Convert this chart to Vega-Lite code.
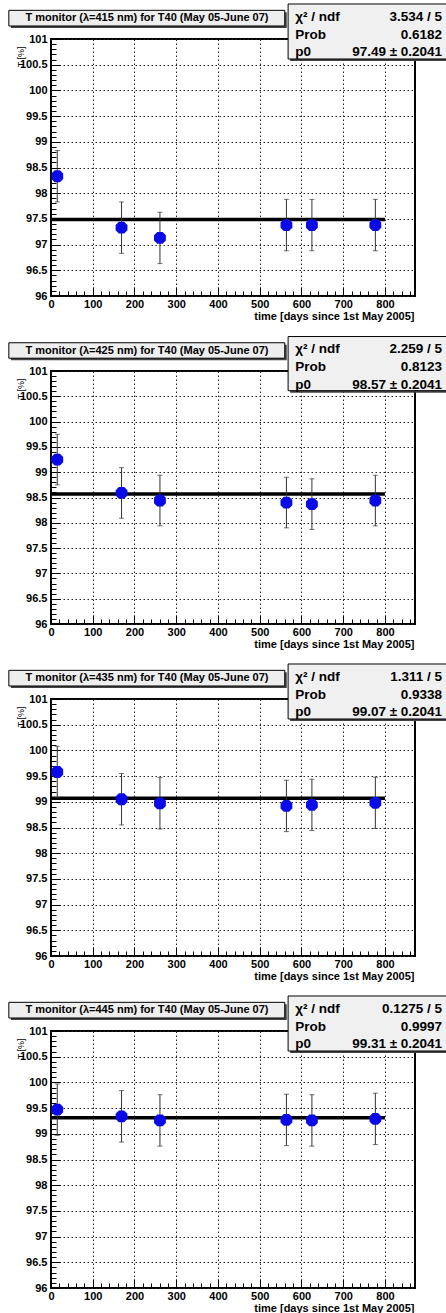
{
  "$schema": "https://vega.github.io/schema/vega-lite/v6.json",
  "background": "white",
  "padding": {"top": 2, "left": 7, "right": 0, "bottom": 0},
  "spacing": 75,
  "bounds": "flush",
  "datasets": {
    "pts": [
      {"panel": 1, "t": 15, "T": 98.33, "err": 0.5},
      {"panel": 1, "t": 169, "T": 97.33, "err": 0.5},
      {"panel": 1, "t": 261, "T": 97.13, "err": 0.5},
      {"panel": 1, "t": 564, "T": 97.38, "err": 0.5},
      {"panel": 1, "t": 625, "T": 97.38, "err": 0.5},
      {"panel": 1, "t": 777, "T": 97.38, "err": 0.5},
      {"panel": 2, "t": 15, "T": 99.25, "err": 0.5},
      {"panel": 2, "t": 169, "T": 98.59, "err": 0.5},
      {"panel": 2, "t": 261, "T": 98.44, "err": 0.5},
      {"panel": 2, "t": 564, "T": 98.4, "err": 0.5},
      {"panel": 2, "t": 625, "T": 98.37, "err": 0.5},
      {"panel": 2, "t": 777, "T": 98.44, "err": 0.5},
      {"panel": 3, "t": 15, "T": 99.58, "err": 0.5},
      {"panel": 3, "t": 169, "T": 99.05, "err": 0.5},
      {"panel": 3, "t": 261, "T": 98.97, "err": 0.5},
      {"panel": 3, "t": 564, "T": 98.92, "err": 0.5},
      {"panel": 3, "t": 625, "T": 98.94, "err": 0.5},
      {"panel": 3, "t": 777, "T": 98.98, "err": 0.5},
      {"panel": 4, "t": 15, "T": 99.47, "err": 0.5},
      {"panel": 4, "t": 169, "T": 99.34, "err": 0.5},
      {"panel": 4, "t": 261, "T": 99.26, "err": 0.5},
      {"panel": 4, "t": 564, "T": 99.27, "err": 0.5},
      {"panel": 4, "t": 625, "T": 99.26, "err": 0.5},
      {"panel": 4, "t": 777, "T": 99.29, "err": 0.5}
    ],
    "info": [
      {"panel": 1, "title": "T monitor (λ=415 nm) for T40 (May 05-June 07)", "labels": ["χ² / ndf", "Prob", "p0"], "vals": ["3.534 / 5", "0.6182", "97.49 ± 0.2041"], "p0": 97.49},
      {"panel": 2, "title": "T monitor (λ=425 nm) for T40 (May 05-June 07)", "labels": ["χ² / ndf", "Prob", "p0"], "vals": ["2.259 / 5", "0.8123", "98.57 ± 0.2041"], "p0": 98.57},
      {"panel": 3, "title": "T monitor (λ=435 nm) for T40 (May 05-June 07)", "labels": ["χ² / ndf", "Prob", "p0"], "vals": ["1.311 / 5", "0.9338", "99.07 ± 0.2041"], "p0": 99.07},
      {"panel": 4, "title": "T monitor (λ=445 nm) for T40 (May 05-June 07)", "labels": ["χ² / ndf", "Prob", "p0"], "vals": ["0.1275 / 5", "0.9997", "99.31 ± 0.2041"], "p0": 99.31}
    ]
  },
  "vconcat": [
    {
      "width": 364, "height": 257,
      "resolve": {"axis": {"x": "independent", "y": "independent"}},
      "layer": [
        {"data": {"name": "info"}, "transform": [{"filter": "datum.panel == 1"}],
         "mark": {"type": "rule", "strokeWidth": 3.5, "color": "black"},
         "encoding": {
           "x": {"datum": 0, "type": "quantitative", "scale": {"domain": [0, 872], "nice": false},
                 "axis": {"orient": "bottom", "title": "time [days since 1st May 2005]", "values": [0,100,200,300,400,500,600,700,800],
                          "format": "d", "grid": true, "tickSize": -9, "labelOverlap": false, "labelFlush": false, "labelPadding": 11, "labelBaseline": "top",
                          "titleAnchor": "end", "titleAlign": "right", "titleX": 363, "titleY": 23, "titleBaseline": "alphabetic"}},
           "x2": {"datum": 800},
           "y": {"field": "p0", "type": "quantitative", "scale": {"domain": [96, 101], "nice": false},
                 "axis": {"orient": "left", "title": "T [%]", "values": [96,96.5,97,97.5,98,98.5,99,99.5,100,100.5,101],
                          "format": "~g", "grid": true, "tickSize": -9, "labelOverlap": false, "labelFlush": false, "labelPadding": 13,
                          "titleAnchor": "end", "titleAngle": -90, "titleAlign": "right", "titleBaseline": "alphabetic", "titleX": -28, "titleY": 7, "titleFontSize": 9, "titleFontWeight": "normal"}}
         }},
        {"data": {"name": "pts"}, "transform": [{"filter": "datum.panel == 1"}],
         "mark": {"type": "errorbar", "ticks": {"size": 5, "color": "#333"}, "rule": {"color": "#333", "strokeWidth": 1}},
         "encoding": {"x": {"field": "t", "type": "quantitative", "axis": null}, "y": {"field": "T", "type": "quantitative", "axis": null}, "yError": {"field": "err"}}},
        {"data": {"name": "pts"}, "transform": [{"filter": "datum.panel == 1"}],
         "mark": {"type": "point", "filled": true, "opacity": 1, "color": "#0a0ae6", "size": 140, "shape": "M-0.45,-1L0.45,-1L1,-0.45L1,0.45L0.45,1L-0.45,1L-1,0.45L-1,-0.45Z"},
         "encoding": {
           "x": {"field": "t", "type": "quantitative", "axis": {"orient": "bottom", "title": null, "labels": false, "grid": false, "tickSize": -5, "values": [0,20,40,60,80,100,120,140,160,180,200,220,240,260,280,300,320,340,360,380,400,420,440,460,480,500,520,540,560,580,600,620,640,660,680,700,720,740,760,780,800,820,840,860]}},
           "y": {"field": "T", "type": "quantitative", "axis": {"orient": "left", "title": null, "labels": false, "grid": false, "tickSize": -5, "values": [96,96.1,96.2,96.3,96.4,96.5,96.6,96.7,96.8,96.9,97,97.1,97.2,97.3,97.4,97.5,97.6,97.7,97.8,97.9,98,98.1,98.2,98.3,98.4,98.5,98.6,98.7,98.8,98.9,99,99.1,99.2,99.3,99.4,99.5,99.6,99.7,99.8,99.9,100,100.1,100.2,100.3,100.4,100.5,100.6,100.7,100.8,100.9,101]}}}},
        {"data": {"name": "info"}, "transform": [{"filter": "datum.panel == 1"}],
         "mark": {"type": "rect", "fill": "#444", "xOffset": 2, "yOffset": 2, "x2Offset": 2, "y2Offset": 2},
         "encoding": {"x": {"datum": -101, "type": "quantitative", "axis": null}, "x2": {"datum": 560}, "y": {"datum": 101.558, "type": "quantitative", "axis": null}, "y2": {"datum": 101.253}}},
        {"data": {"name": "info"}, "transform": [{"filter": "datum.panel == 1"}],
         "mark": {"type": "rect", "fill": "#eeeeee", "stroke": "black", "strokeWidth": 1},
         "encoding": {"x": {"datum": -101, "type": "quantitative", "axis": null}, "x2": {"datum": 560}, "y": {"datum": 101.558, "type": "quantitative", "axis": null}, "y2": {"datum": 101.253}}},
        {"data": {"name": "info"}, "transform": [{"filter": "datum.panel == 1"}],
         "mark": {"type": "text", "font": "Liberation Sans", "fontWeight": "bold", "fontSize": 11, "align": "center", "baseline": "middle", "color": "black"},
         "encoding": {"x": {"datum": 230, "type": "quantitative", "axis": null}, "y": {"datum": 101.405, "type": "quantitative", "axis": null}, "text": {"field": "title"}}},
        {"data": {"name": "info"}, "transform": [{"filter": "datum.panel == 1"}],
         "mark": {"type": "rect", "fill": "#444", "xOffset": 2, "yOffset": 2, "x2Offset": 2, "y2Offset": 2},
         "encoding": {"x": {"datum": 568, "type": "quantitative", "axis": null}, "x2": {"datum": 1000}, "y": {"datum": 101.681, "type": "quantitative", "axis": null}, "y2": {"datum": 100.611}}},
        {"data": {"name": "info"}, "transform": [{"filter": "datum.panel == 1"}],
         "mark": {"type": "rect", "fill": "#f0f0f0", "stroke": "black", "strokeWidth": 1},
         "encoding": {"x": {"datum": 568, "type": "quantitative", "axis": null}, "x2": {"datum": 1000}, "y": {"datum": 101.681, "type": "quantitative", "axis": null}, "y2": {"datum": 100.611}}},
        {"data": {"name": "info"}, "transform": [{"filter": "datum.panel == 1"}],
         "mark": {"type": "text", "font": "Liberation Sans", "fontWeight": "bold", "fontSize": 13.5, "align": "left", "baseline": "middle", "lineHeight": 17.7, "color": "black"},
         "encoding": {"x": {"datum": 585, "type": "quantitative", "axis": null}, "y": {"datum": 101.428, "type": "quantitative", "axis": null}, "text": {"field": "labels"}}},
        {"data": {"name": "info"}, "transform": [{"filter": "datum.panel == 1"}],
         "mark": {"type": "text", "font": "Liberation Sans", "fontWeight": "bold", "fontSize": 13.5, "align": "right", "baseline": "middle", "lineHeight": 17.7, "color": "black"},
         "encoding": {"x": {"datum": 937, "type": "quantitative", "axis": null}, "y": {"datum": 101.428, "type": "quantitative", "axis": null}, "text": {"field": "vals"}}}
      ]
    },
    {
      "width": 364, "height": 253,
      "resolve": {"axis": {"x": "independent", "y": "independent"}},
      "layer": [
        {"data": {"name": "info"}, "transform": [{"filter": "datum.panel == 2"}],
         "mark": {"type": "rule", "strokeWidth": 3.5, "color": "black"},
         "encoding": {
           "x": {"datum": 0, "type": "quantitative", "scale": {"domain": [0, 872], "nice": false},
                 "axis": {"orient": "bottom", "title": "time [days since 1st May 2005]", "values": [0,100,200,300,400,500,600,700,800],
                          "format": "d", "grid": true, "tickSize": -9, "labelOverlap": false, "labelFlush": false, "labelPadding": 11, "labelBaseline": "top",
                          "titleAnchor": "end", "titleAlign": "right", "titleX": 363, "titleY": 23, "titleBaseline": "alphabetic"}},
           "x2": {"datum": 800},
           "y": {"field": "p0", "type": "quantitative", "scale": {"domain": [96, 101], "nice": false},
                 "axis": {"orient": "left", "title": "T [%]", "values": [96,96.5,97,97.5,98,98.5,99,99.5,100,100.5,101],
                          "format": "~g", "grid": true, "tickSize": -9, "labelOverlap": false, "labelFlush": false, "labelPadding": 13,
                          "titleAnchor": "end", "titleAngle": -90, "titleAlign": "right", "titleBaseline": "alphabetic", "titleX": -28, "titleY": 7, "titleFontSize": 9, "titleFontWeight": "normal"}}
         }},
        {"data": {"name": "pts"}, "transform": [{"filter": "datum.panel == 2"}],
         "mark": {"type": "errorbar", "ticks": {"size": 5, "color": "#333"}, "rule": {"color": "#333", "strokeWidth": 1}},
         "encoding": {"x": {"field": "t", "type": "quantitative", "axis": null}, "y": {"field": "T", "type": "quantitative", "axis": null}, "yError": {"field": "err"}}},
        {"data": {"name": "pts"}, "transform": [{"filter": "datum.panel == 2"}],
         "mark": {"type": "point", "filled": true, "opacity": 1, "color": "#0a0ae6", "size": 140, "shape": "M-0.45,-1L0.45,-1L1,-0.45L1,0.45L0.45,1L-0.45,1L-1,0.45L-1,-0.45Z"},
         "encoding": {
           "x": {"field": "t", "type": "quantitative", "axis": {"orient": "bottom", "title": null, "labels": false, "grid": false, "tickSize": -5, "values": [0,20,40,60,80,100,120,140,160,180,200,220,240,260,280,300,320,340,360,380,400,420,440,460,480,500,520,540,560,580,600,620,640,660,680,700,720,740,760,780,800,820,840,860]}},
           "y": {"field": "T", "type": "quantitative", "axis": {"orient": "left", "title": null, "labels": false, "grid": false, "tickSize": -5, "values": [96,96.1,96.2,96.3,96.4,96.5,96.6,96.7,96.8,96.9,97,97.1,97.2,97.3,97.4,97.5,97.6,97.7,97.8,97.9,98,98.1,98.2,98.3,98.4,98.5,98.6,98.7,98.8,98.9,99,99.1,99.2,99.3,99.4,99.5,99.6,99.7,99.8,99.9,100,100.1,100.2,100.3,100.4,100.5,100.6,100.7,100.8,100.9,101]}}}},
        {"data": {"name": "info"}, "transform": [{"filter": "datum.panel == 2"}],
         "mark": {"type": "rect", "fill": "#444", "xOffset": 2, "yOffset": 2, "x2Offset": 2, "y2Offset": 2},
         "encoding": {"x": {"datum": -101, "type": "quantitative", "axis": null}, "x2": {"datum": 560}, "y": {"datum": 101.558, "type": "quantitative", "axis": null}, "y2": {"datum": 101.253}}},
        {"data": {"name": "info"}, "transform": [{"filter": "datum.panel == 2"}],
         "mark": {"type": "rect", "fill": "#eeeeee", "stroke": "black", "strokeWidth": 1},
         "encoding": {"x": {"datum": -101, "type": "quantitative", "axis": null}, "x2": {"datum": 560}, "y": {"datum": 101.558, "type": "quantitative", "axis": null}, "y2": {"datum": 101.253}}},
        {"data": {"name": "info"}, "transform": [{"filter": "datum.panel == 2"}],
         "mark": {"type": "text", "font": "Liberation Sans", "fontWeight": "bold", "fontSize": 11, "align": "center", "baseline": "middle", "color": "black"},
         "encoding": {"x": {"datum": 230, "type": "quantitative", "axis": null}, "y": {"datum": 101.405, "type": "quantitative", "axis": null}, "text": {"field": "title"}}},
        {"data": {"name": "info"}, "transform": [{"filter": "datum.panel == 2"}],
         "mark": {"type": "rect", "fill": "#444", "xOffset": 2, "yOffset": 2, "x2Offset": 2, "y2Offset": 2},
         "encoding": {"x": {"datum": 568, "type": "quantitative", "axis": null}, "x2": {"datum": 1000}, "y": {"datum": 101.681, "type": "quantitative", "axis": null}, "y2": {"datum": 100.611}}},
        {"data": {"name": "info"}, "transform": [{"filter": "datum.panel == 2"}],
         "mark": {"type": "rect", "fill": "#f0f0f0", "stroke": "black", "strokeWidth": 1},
         "encoding": {"x": {"datum": 568, "type": "quantitative", "axis": null}, "x2": {"datum": 1000}, "y": {"datum": 101.681, "type": "quantitative", "axis": null}, "y2": {"datum": 100.611}}},
        {"data": {"name": "info"}, "transform": [{"filter": "datum.panel == 2"}],
         "mark": {"type": "text", "font": "Liberation Sans", "fontWeight": "bold", "fontSize": 13.5, "align": "left", "baseline": "middle", "lineHeight": 17.7, "color": "black"},
         "encoding": {"x": {"datum": 585, "type": "quantitative", "axis": null}, "y": {"datum": 101.428, "type": "quantitative", "axis": null}, "text": {"field": "labels"}}},
        {"data": {"name": "info"}, "transform": [{"filter": "datum.panel == 2"}],
         "mark": {"type": "text", "font": "Liberation Sans", "fontWeight": "bold", "fontSize": 13.5, "align": "right", "baseline": "middle", "lineHeight": 17.7, "color": "black"},
         "encoding": {"x": {"datum": 937, "type": "quantitative", "axis": null}, "y": {"datum": 101.428, "type": "quantitative", "axis": null}, "text": {"field": "vals"}}}
      ]
    },
    {
      "width": 364, "height": 257,
      "resolve": {"axis": {"x": "independent", "y": "independent"}},
      "layer": [
        {"data": {"name": "info"}, "transform": [{"filter": "datum.panel == 3"}],
         "mark": {"type": "rule", "strokeWidth": 3.5, "color": "black"},
         "encoding": {
           "x": {"datum": 0, "type": "quantitative", "scale": {"domain": [0, 872], "nice": false},
                 "axis": {"orient": "bottom", "title": "time [days since 1st May 2005]", "values": [0,100,200,300,400,500,600,700,800],
                          "format": "d", "grid": true, "tickSize": -9, "labelOverlap": false, "labelFlush": false, "labelPadding": 11, "labelBaseline": "top",
                          "titleAnchor": "end", "titleAlign": "right", "titleX": 363, "titleY": 23, "titleBaseline": "alphabetic"}},
           "x2": {"datum": 800},
           "y": {"field": "p0", "type": "quantitative", "scale": {"domain": [96, 101], "nice": false},
                 "axis": {"orient": "left", "title": "T [%]", "values": [96,96.5,97,97.5,98,98.5,99,99.5,100,100.5,101],
                          "format": "~g", "grid": true, "tickSize": -9, "labelOverlap": false, "labelFlush": false, "labelPadding": 13,
                          "titleAnchor": "end", "titleAngle": -90, "titleAlign": "right", "titleBaseline": "alphabetic", "titleX": -28, "titleY": 7, "titleFontSize": 9, "titleFontWeight": "normal"}}
         }},
        {"data": {"name": "pts"}, "transform": [{"filter": "datum.panel == 3"}],
         "mark": {"type": "errorbar", "ticks": {"size": 5, "color": "#333"}, "rule": {"color": "#333", "strokeWidth": 1}},
         "encoding": {"x": {"field": "t", "type": "quantitative", "axis": null}, "y": {"field": "T", "type": "quantitative", "axis": null}, "yError": {"field": "err"}}},
        {"data": {"name": "pts"}, "transform": [{"filter": "datum.panel == 3"}],
         "mark": {"type": "point", "filled": true, "opacity": 1, "color": "#0a0ae6", "size": 140, "shape": "M-0.45,-1L0.45,-1L1,-0.45L1,0.45L0.45,1L-0.45,1L-1,0.45L-1,-0.45Z"},
         "encoding": {
           "x": {"field": "t", "type": "quantitative", "axis": {"orient": "bottom", "title": null, "labels": false, "grid": false, "tickSize": -5, "values": [0,20,40,60,80,100,120,140,160,180,200,220,240,260,280,300,320,340,360,380,400,420,440,460,480,500,520,540,560,580,600,620,640,660,680,700,720,740,760,780,800,820,840,860]}},
           "y": {"field": "T", "type": "quantitative", "axis": {"orient": "left", "title": null, "labels": false, "grid": false, "tickSize": -5, "values": [96,96.1,96.2,96.3,96.4,96.5,96.6,96.7,96.8,96.9,97,97.1,97.2,97.3,97.4,97.5,97.6,97.7,97.8,97.9,98,98.1,98.2,98.3,98.4,98.5,98.6,98.7,98.8,98.9,99,99.1,99.2,99.3,99.4,99.5,99.6,99.7,99.8,99.9,100,100.1,100.2,100.3,100.4,100.5,100.6,100.7,100.8,100.9,101]}}}},
        {"data": {"name": "info"}, "transform": [{"filter": "datum.panel == 3"}],
         "mark": {"type": "rect", "fill": "#444", "xOffset": 2, "yOffset": 2, "x2Offset": 2, "y2Offset": 2},
         "encoding": {"x": {"datum": -101, "type": "quantitative", "axis": null}, "x2": {"datum": 560}, "y": {"datum": 101.558, "type": "quantitative", "axis": null}, "y2": {"datum": 101.253}}},
        {"data": {"name": "info"}, "transform": [{"filter": "datum.panel == 3"}],
         "mark": {"type": "rect", "fill": "#eeeeee", "stroke": "black", "strokeWidth": 1},
         "encoding": {"x": {"datum": -101, "type": "quantitative", "axis": null}, "x2": {"datum": 560}, "y": {"datum": 101.558, "type": "quantitative", "axis": null}, "y2": {"datum": 101.253}}},
        {"data": {"name": "info"}, "transform": [{"filter": "datum.panel == 3"}],
         "mark": {"type": "text", "font": "Liberation Sans", "fontWeight": "bold", "fontSize": 11, "align": "center", "baseline": "middle", "color": "black"},
         "encoding": {"x": {"datum": 230, "type": "quantitative", "axis": null}, "y": {"datum": 101.405, "type": "quantitative", "axis": null}, "text": {"field": "title"}}},
        {"data": {"name": "info"}, "transform": [{"filter": "datum.panel == 3"}],
         "mark": {"type": "rect", "fill": "#444", "xOffset": 2, "yOffset": 2, "x2Offset": 2, "y2Offset": 2},
         "encoding": {"x": {"datum": 568, "type": "quantitative", "axis": null}, "x2": {"datum": 1000}, "y": {"datum": 101.681, "type": "quantitative", "axis": null}, "y2": {"datum": 100.611}}},
        {"data": {"name": "info"}, "transform": [{"filter": "datum.panel == 3"}],
         "mark": {"type": "rect", "fill": "#f0f0f0", "stroke": "black", "strokeWidth": 1},
         "encoding": {"x": {"datum": 568, "type": "quantitative", "axis": null}, "x2": {"datum": 1000}, "y": {"datum": 101.681, "type": "quantitative", "axis": null}, "y2": {"datum": 100.611}}},
        {"data": {"name": "info"}, "transform": [{"filter": "datum.panel == 3"}],
         "mark": {"type": "text", "font": "Liberation Sans", "fontWeight": "bold", "fontSize": 13.5, "align": "left", "baseline": "middle", "lineHeight": 17.7, "color": "black"},
         "encoding": {"x": {"datum": 585, "type": "quantitative", "axis": null}, "y": {"datum": 101.428, "type": "quantitative", "axis": null}, "text": {"field": "labels"}}},
        {"data": {"name": "info"}, "transform": [{"filter": "datum.panel == 3"}],
         "mark": {"type": "text", "font": "Liberation Sans", "fontWeight": "bold", "fontSize": 13.5, "align": "right", "baseline": "middle", "lineHeight": 17.7, "color": "black"},
         "encoding": {"x": {"datum": 937, "type": "quantitative", "axis": null}, "y": {"datum": 101.428, "type": "quantitative", "axis": null}, "text": {"field": "vals"}}}
      ]
    },
    {
      "width": 364, "height": 257,
      "resolve": {"axis": {"x": "independent", "y": "independent"}},
      "layer": [
        {"data": {"name": "info"}, "transform": [{"filter": "datum.panel == 4"}],
         "mark": {"type": "rule", "strokeWidth": 3.5, "color": "black"},
         "encoding": {
           "x": {"datum": 0, "type": "quantitative", "scale": {"domain": [0, 872], "nice": false},
                 "axis": {"orient": "bottom", "title": "time [days since 1st May 2005]", "values": [0,100,200,300,400,500,600,700,800],
                          "format": "d", "grid": true, "tickSize": -9, "labelOverlap": false, "labelFlush": false, "labelPadding": 11, "labelBaseline": "top",
                          "titleAnchor": "end", "titleAlign": "right", "titleX": 363, "titleY": 23, "titleBaseline": "alphabetic"}},
           "x2": {"datum": 800},
           "y": {"field": "p0", "type": "quantitative", "scale": {"domain": [96, 101], "nice": false},
                 "axis": {"orient": "left", "title": "T [%]", "values": [96,96.5,97,97.5,98,98.5,99,99.5,100,100.5,101],
                          "format": "~g", "grid": true, "tickSize": -9, "labelOverlap": false, "labelFlush": false, "labelPadding": 13,
                          "titleAnchor": "end", "titleAngle": -90, "titleAlign": "right", "titleBaseline": "alphabetic", "titleX": -28, "titleY": 7, "titleFontSize": 9, "titleFontWeight": "normal"}}
         }},
        {"data": {"name": "pts"}, "transform": [{"filter": "datum.panel == 4"}],
         "mark": {"type": "errorbar", "ticks": {"size": 5, "color": "#333"}, "rule": {"color": "#333", "strokeWidth": 1}},
         "encoding": {"x": {"field": "t", "type": "quantitative", "axis": null}, "y": {"field": "T", "type": "quantitative", "axis": null}, "yError": {"field": "err"}}},
        {"data": {"name": "pts"}, "transform": [{"filter": "datum.panel == 4"}],
         "mark": {"type": "point", "filled": true, "opacity": 1, "color": "#0a0ae6", "size": 140, "shape": "M-0.45,-1L0.45,-1L1,-0.45L1,0.45L0.45,1L-0.45,1L-1,0.45L-1,-0.45Z"},
         "encoding": {
           "x": {"field": "t", "type": "quantitative", "axis": {"orient": "bottom", "title": null, "labels": false, "grid": false, "tickSize": -5, "values": [0,20,40,60,80,100,120,140,160,180,200,220,240,260,280,300,320,340,360,380,400,420,440,460,480,500,520,540,560,580,600,620,640,660,680,700,720,740,760,780,800,820,840,860]}},
           "y": {"field": "T", "type": "quantitative", "axis": {"orient": "left", "title": null, "labels": false, "grid": false, "tickSize": -5, "values": [96,96.1,96.2,96.3,96.4,96.5,96.6,96.7,96.8,96.9,97,97.1,97.2,97.3,97.4,97.5,97.6,97.7,97.8,97.9,98,98.1,98.2,98.3,98.4,98.5,98.6,98.7,98.8,98.9,99,99.1,99.2,99.3,99.4,99.5,99.6,99.7,99.8,99.9,100,100.1,100.2,100.3,100.4,100.5,100.6,100.7,100.8,100.9,101]}}}},
        {"data": {"name": "info"}, "transform": [{"filter": "datum.panel == 4"}],
         "mark": {"type": "rect", "fill": "#444", "xOffset": 2, "yOffset": 2, "x2Offset": 2, "y2Offset": 2},
         "encoding": {"x": {"datum": -101, "type": "quantitative", "axis": null}, "x2": {"datum": 560}, "y": {"datum": 101.558, "type": "quantitative", "axis": null}, "y2": {"datum": 101.253}}},
        {"data": {"name": "info"}, "transform": [{"filter": "datum.panel == 4"}],
         "mark": {"type": "rect", "fill": "#eeeeee", "stroke": "black", "strokeWidth": 1},
         "encoding": {"x": {"datum": -101, "type": "quantitative", "axis": null}, "x2": {"datum": 560}, "y": {"datum": 101.558, "type": "quantitative", "axis": null}, "y2": {"datum": 101.253}}},
        {"data": {"name": "info"}, "transform": [{"filter": "datum.panel == 4"}],
         "mark": {"type": "text", "font": "Liberation Sans", "fontWeight": "bold", "fontSize": 11, "align": "center", "baseline": "middle", "color": "black"},
         "encoding": {"x": {"datum": 230, "type": "quantitative", "axis": null}, "y": {"datum": 101.405, "type": "quantitative", "axis": null}, "text": {"field": "title"}}},
        {"data": {"name": "info"}, "transform": [{"filter": "datum.panel == 4"}],
         "mark": {"type": "rect", "fill": "#444", "xOffset": 2, "yOffset": 2, "x2Offset": 2, "y2Offset": 2},
         "encoding": {"x": {"datum": 568, "type": "quantitative", "axis": null}, "x2": {"datum": 1000}, "y": {"datum": 101.681, "type": "quantitative", "axis": null}, "y2": {"datum": 100.611}}},
        {"data": {"name": "info"}, "transform": [{"filter": "datum.panel == 4"}],
         "mark": {"type": "rect", "fill": "#f0f0f0", "stroke": "black", "strokeWidth": 1},
         "encoding": {"x": {"datum": 568, "type": "quantitative", "axis": null}, "x2": {"datum": 1000}, "y": {"datum": 101.681, "type": "quantitative", "axis": null}, "y2": {"datum": 100.611}}},
        {"data": {"name": "info"}, "transform": [{"filter": "datum.panel == 4"}],
         "mark": {"type": "text", "font": "Liberation Sans", "fontWeight": "bold", "fontSize": 13.5, "align": "left", "baseline": "middle", "lineHeight": 17.7, "color": "black"},
         "encoding": {"x": {"datum": 585, "type": "quantitative", "axis": null}, "y": {"datum": 101.428, "type": "quantitative", "axis": null}, "text": {"field": "labels"}}},
        {"data": {"name": "info"}, "transform": [{"filter": "datum.panel == 4"}],
         "mark": {"type": "text", "font": "Liberation Sans", "fontWeight": "bold", "fontSize": 13.5, "align": "right", "baseline": "middle", "lineHeight": 17.7, "color": "black"},
         "encoding": {"x": {"datum": 937, "type": "quantitative", "axis": null}, "y": {"datum": 101.428, "type": "quantitative", "axis": null}, "text": {"field": "vals"}}}
      ]
    }
  ],
  "config": {
    "font": "Liberation Sans",
    "view": {"stroke": "black", "strokeWidth": 2},
    "axis": {
      "domain": false,
      "labelFont": "Liberation Sans", "labelFontWeight": "bold", "labelFontSize": 11, "labelColor": "black",
      "titleFont": "Liberation Sans", "titleFontWeight": "bold", "titleFontSize": 11, "titleColor": "black",
      "tickColor": "black", "tickWidth": 1,
      "gridColor": "#222", "gridDash": [1.5, 2.5], "gridWidth": 1
    }
  }
}
